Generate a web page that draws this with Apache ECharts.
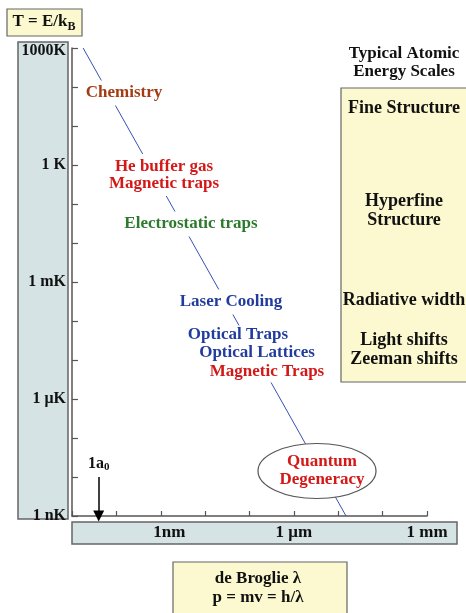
<!DOCTYPE html>
<html>
<head>
<meta charset="utf-8">
<script src="https://cdn.jsdelivr.net/npm/echarts@6/dist/echarts.min.js"></script>
<style>
  html, body { margin: 0; padding: 0; background: #fff; }
  #chart { width: 466px; height: 613px; }
</style>
</head>
<body>
<div id="chart"></div>
<script>
// Thermal de Broglie wavelength (m) against temperature (K), log-log
const temperatureK = [1e3, 1e-9];
const wavelengthM = [1.78e-11, 1.5e-5];

// Bohr radius marker on the length axis
const bohrMarkM = 4e-11;
const bohrMarkTopK = 1e-8;

// Temperature axis labels (decade exponent -> text)
const tempTickExp = [3, 0, -3, -6, -9];
const tempTickText = ['1000K', '1 K', '1 mK', '1 μK', '1 nK'];

// Length axis labels (decade exponent -> text)
const lengthTickExp = [-9, -6, -3];
const lengthTickText = ['1nm', '1 μm', '1 mm'];

// Cooling / trapping regimes written along the curve
const regimeText = [
  'Chemistry',
  'He buffer gas\nMagnetic traps',
  'Electrostatic traps',
  'Laser Cooling',
  'Optical Traps',
  'Optical Lattices',
  'Magnetic Traps'
];
const regimeColor = ['#a33c12', '#d41818', '#2d7a2d', '#213c9c', '#213c9c', '#213c9c', '#d41818'];

// Atomic energy scales listed in the side panel
const scaleTitle = 'Typical Atomic\nEnergy Scales';
const scaleText = ['Fine Structure', 'Hyperfine\nStructure', 'Radiative width', 'Light shifts\nZeeman shifts'];

const SERIF = '"Liberation Serif", "DejaVu Serif", serif';
const BLUE_BOX = '#d6e3e4';
const YELLOW_BOX = '#fcf9d0';
const BOX_EDGE = '#666';

function expOf(v) { return Math.round(Math.log10(v)); }

const lineData = temperatureK.map((t, i) => [wavelengthM[i], t]);

// Label placement (pixel centres) and white knock-out padding behind each label
const regimePos = [[124, 93], [164, 175], [191, 224], [231, 302], [238, 335], [257, 353], [267, 372]];
const regimePad = [[4, 3], [4, 3], [4, 3], [4, 3], [1, 3], [1, 3], [2, 3]];
const scalePos = [[404, 108], [404, 211], [404, 300], [404, 350]];

const graphics = [
  // temperature label panel
  { type: 'rect', z: -5, shape: { x: 18, y: 42, width: 50, height: 477 },
    style: { fill: BLUE_BOX, stroke: BOX_EDGE, lineWidth: 1.5 } },
  // length label panel
  { type: 'rect', z: -5, shape: { x: 72, y: 522, width: 385, height: 22 },
    style: { fill: BLUE_BOX, stroke: BOX_EDGE, lineWidth: 1.5 } },
  // T = E/kB tag
  { type: 'rect', z: 5, shape: { x: 7, y: 9, width: 75, height: 27 },
    style: { fill: YELLOW_BOX, stroke: BOX_EDGE, lineWidth: 1.2 } },
  { type: 'text', z: 6, x: 44, y: 22,
    style: { text: '{a|T = E/k}{b|B}', align: 'center', verticalAlign: 'middle',
      rich: {
        a: { font: 'bold 17px ' + SERIF, fill: '#111' },
        b: { font: 'bold 12px ' + SERIF, fill: '#111', padding: [9, 0, 0, 0] }
      } } },
  // energy scales panel
  { type: 'rect', z: 5, shape: { x: 341, y: 88, width: 140, height: 294 },
    style: { fill: YELLOW_BOX, stroke: BOX_EDGE, lineWidth: 1.2 } },
  { type: 'text', z: 6, x: 404, y: 63,
    style: { text: scaleTitle, align: 'center', verticalAlign: 'middle',
      font: 'bold 17px ' + SERIF, lineHeight: 18, fill: '#111' } },
  // de Broglie tag
  { type: 'rect', z: 5, shape: { x: 173, y: 562, width: 174, height: 60 },
    style: { fill: YELLOW_BOX, stroke: BOX_EDGE, lineWidth: 1.2 } },
  { type: 'text', z: 6, x: 258, y: 588,
    style: { text: 'de Broglie λ\np = mv = h/λ', align: 'center', verticalAlign: 'middle',
      font: 'bold 17px ' + SERIF, lineHeight: 19, fill: '#111' } },
  // quantum degeneracy bubble
  { type: 'ellipse', z: 20, shape: { cx: 317, cy: 471, rx: 59, ry: 27.5 },
    style: { fill: '#fff', stroke: '#555', lineWidth: 1.2 } },
  { type: 'text', z: 21, x: 322, y: 471,
    style: { text: 'Quantum\nDegeneracy', align: 'center', verticalAlign: 'middle',
      font: 'bold 17px ' + SERIF, lineHeight: 18, fill: '#d41818' } }
];

regimeText.forEach((t, i) => {
  graphics.push({
    type: 'text', z: 20, x: regimePos[i][0], y: regimePos[i][1],
    style: {
      text: t, align: 'center', verticalAlign: 'middle',
      font: 'bold 17px ' + SERIF, lineHeight: 17, fill: regimeColor[i],
      backgroundColor: '#fff', padding: regimePad[i]
    }
  });
});

scaleText.forEach((t, i) => {
  graphics.push({
    type: 'text', z: 6, x: scalePos[i][0], y: scalePos[i][1],
    style: { text: t, align: 'center', verticalAlign: 'middle',
      font: 'bold 18px ' + SERIF, lineHeight: 19, fill: '#111' }
  });
});

const axisStyle = { show: true, lineStyle: { color: '#555', width: 1.5 } };
const tickStyle = { show: true, inside: true, length: 6, lineStyle: { color: '#555', width: 1.2 } };

const chart = echarts.init(document.getElementById('chart'), null, { renderer: 'canvas' });
chart.setOption({
  animation: false,
  backgroundColor: '#fff',
  grid: { left: 72, right: 39, top: 48, bottom: 97, containLabel: false, outerBoundsMode: 'none' },
  xAxis: {
    type: 'log', logBase: 10, min: 1e-11, max: 1e-3, interval: 1,
    axisLine: axisStyle,
    axisTick: Object.assign({}, tickStyle, { length: 5 }),
    splitLine: { show: false },
    axisLabel: {
      margin: 8, fontFamily: SERIF, fontWeight: 'bold', fontSize: 17, color: '#111',
      showMinLabel: true, showMaxLabel: true,
      formatter: v => {
        const k = lengthTickExp.indexOf(expOf(v));
        if (k < 0) return '';
        return k === 0 ? '{lead|' + lengthTickText[k] + '}' : lengthTickText[k];
      },
      rich: {
        lead: { fontFamily: SERIF, fontWeight: 'bold', fontSize: 17, color: '#111', padding: [0, 0, 0, 17] }
      }
    }
  },
  yAxis: {
    type: 'log', logBase: 10, min: 1e-9, max: 1e3, interval: 1,
    axisLine: axisStyle,
    axisTick: tickStyle,
    splitLine: { show: false },
    axisLabel: {
      margin: 6, fontFamily: SERIF, fontWeight: 'bold', fontSize: 16, color: '#111',
      showMinLabel: true, showMaxLabel: true,
      formatter: v => {
        const k = tempTickExp.indexOf(expOf(v));
        if (k < 0) return '';
        // the topmost label sits a little lower, inside its panel
        return k === 0 ? '{top|' + tempTickText[k] + '}' : tempTickText[k];
      },
      rich: {
        top: { fontFamily: SERIF, fontWeight: 'bold', fontSize: 16, color: '#111', padding: [5, 0, 0, 0] }
      }
    }
  },
  series: [{
    type: 'line',
    data: lineData,
    showSymbol: false,
    z: 3,
    lineStyle: { color: '#3552b5', width: 1 },
    markLine: {
      silent: true,
      symbol: ['none', 'triangle'],
      symbolSize: 11,
      lineStyle: { color: '#000', width: 1.5, type: 'solid' },
      itemStyle: { color: '#000' },
      label: {
        show: true, position: 'start', distance: 4,
        formatter: '{n|1a}{s|0}',
        rich: {
          n: { fontFamily: SERIF, fontWeight: 'bold', fontSize: 16, color: '#111' },
          s: { fontFamily: SERIF, fontWeight: 'bold', fontSize: 11, color: '#111', padding: [8, 0, 0, 0] }
        }
      },
      data: [[{ coord: [bohrMarkM, bohrMarkTopK] }, { coord: [bohrMarkM, temperatureK[1]] }]]
    }
  }],
  graphic: graphics
});
</script>
</body>
</html>
